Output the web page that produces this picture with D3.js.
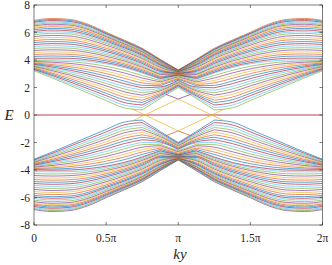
<!DOCTYPE html>
<html><head><meta charset="utf-8">
<script src="https://cdn.jsdelivr.net/npm/d3@7/dist/d3.min.js"></script>
<style>body{margin:0;background:#fff}svg{display:block}</style>
</head><body>
<svg id="chart" width="332" height="265"></svg>
<script>
// ky sample points (in units of π) for the half range 0..π; the spectrum is mirrored about ky = π
const kyKnots = [0, 0.125, 0.25, 0.375, 0.5, 0.625, 0.75, 0.875, 1];

// Lower "fan" of the conduction band, bottom edge first
const fanBands = [
  [3.22, 2.70, 2.15, 1.60, 1.05, 0.52, 0.37, 1.20, 2.00],
  [3.27, 2.79, 2.27, 1.75, 1.23, 0.72, 0.55, 1.29, 2.06],
  [3.32, 2.88, 2.40, 1.91, 1.41, 0.91, 0.73, 1.39, 2.12],
  [3.38, 2.96, 2.52, 2.06, 1.58, 1.11, 0.91, 1.48, 2.18],
  [3.43, 3.05, 2.64, 2.21, 1.76, 1.30, 1.08, 1.57, 2.24],
  [3.48, 3.14, 2.77, 2.37, 1.94, 1.50, 1.26, 1.67, 2.30],
  [3.53, 3.23, 2.89, 2.52, 2.12, 1.69, 1.44, 1.76, 2.36],
  [3.58, 3.32, 3.01, 2.67, 2.30, 1.89, 1.62, 1.85, 2.42],
  [3.64, 3.40, 3.14, 2.83, 2.47, 2.08, 1.80, 1.95, 2.48],
  [3.69, 3.49, 3.26, 2.98, 2.65, 2.28, 1.98, 2.04, 2.54],
  [3.74, 3.58, 3.38, 3.13, 2.83, 2.47, 2.16, 2.13, 2.60],
  [3.79, 3.67, 3.51, 3.29, 3.01, 2.67, 2.34, 2.23, 2.66],
  [3.84, 3.76, 3.63, 3.44, 3.19, 2.86, 2.51, 2.32, 2.72],
  [3.90, 3.84, 3.75, 3.59, 3.36, 3.06, 2.69, 2.41, 2.78],
  [3.95, 3.93, 3.88, 3.75, 3.54, 3.25, 2.87, 2.51, 2.84],
  [4.00, 4.02, 4.00, 3.90, 3.72, 3.45, 3.05, 2.60, 2.90]
];

// Upper part of the conduction band, top edge last
const upperBands = [
  [4.12, 4.14, 4.12, 4.01, 3.81, 3.53, 3.12, 2.66, 2.91],
  [4.26, 4.29, 4.27, 4.14, 3.93, 3.63, 3.21, 2.73, 2.93],
  [4.40, 4.44, 4.41, 4.28, 4.04, 3.73, 3.30, 2.80, 2.95],
  [4.55, 4.59, 4.56, 4.41, 4.16, 3.83, 3.39, 2.88, 2.97],
  [4.69, 4.74, 4.71, 4.55, 4.27, 3.93, 3.48, 2.95, 2.99],
  [4.84, 4.89, 4.86, 4.68, 4.39, 4.03, 3.57, 3.02, 3.01],
  [4.98, 5.04, 5.00, 4.82, 4.50, 4.13, 3.66, 3.09, 3.03],
  [5.12, 5.19, 5.15, 4.95, 4.62, 4.23, 3.75, 3.17, 3.04],
  [5.27, 5.34, 5.30, 5.09, 4.73, 4.33, 3.84, 3.24, 3.06],
  [5.41, 5.49, 5.45, 5.22, 4.85, 4.43, 3.93, 3.31, 3.08],
  [5.56, 5.64, 5.59, 5.36, 4.96, 4.53, 4.02, 3.38, 3.10],
  [5.70, 5.79, 5.74, 5.49, 5.08, 4.63, 4.11, 3.46, 3.12],
  [5.84, 5.94, 5.89, 5.63, 5.19, 4.73, 4.20, 3.53, 3.14],
  [5.96, 6.06, 6.01, 5.74, 5.28, 4.81, 4.27, 3.59, 3.15],
  [6.07, 6.18, 6.12, 5.84, 5.38, 4.89, 4.35, 3.64, 3.17],
  [6.19, 6.30, 6.24, 5.95, 5.47, 4.97, 4.42, 3.70, 3.18],
  [6.30, 6.42, 6.36, 6.06, 5.56, 5.05, 4.49, 3.76, 3.20],
  [6.39, 6.51, 6.45, 6.14, 5.63, 5.11, 4.54, 3.80, 3.21],
  [6.48, 6.60, 6.54, 6.22, 5.70, 5.17, 4.60, 3.85, 3.22],
  [6.56, 6.69, 6.63, 6.30, 5.77, 5.23, 4.65, 3.89, 3.23],
  [6.65, 6.78, 6.71, 6.38, 5.84, 5.29, 4.71, 3.93, 3.24],
  [6.74, 6.87, 6.80, 6.47, 5.91, 5.35, 4.76, 3.98, 3.25],
  [6.81, 6.95, 6.88, 6.53, 5.96, 5.40, 4.81, 4.01, 3.26],
  [6.88, 7.02, 6.95, 6.60, 6.02, 5.45, 4.85, 4.05, 3.27]
];

// In-gap states (half range, mirrored about π)
const edgeRiseKy = [0.68, 1.0];   const edgeRiseE = [-0.44, 1.16];
const edgeFallKy = [0.68, 1.0];   const edgeFallE = [0.44, -1.16];
const dipKy = [0.915, 1.0];       const dipE = [1.50, 1.16];
const zeroKy = [0, 2];            const zeroE = [0, 0];

const xTickValues = [0, 0.5, 1, 1.5, 2];
const xTickLabels = ["0", "0.5\u03c0", "\u03c0", "1.5\u03c0", "2\u03c0"];
const yTickValues = [-8, -6, -4, -2, 0, 2, 4, 6, 8];
const yTickLabels = ["-8", "-6", "-4", "-2", "0", "2", "4", "6", "8"];
const palette = ["#0072BD", "#D95319", "#EDB120", "#7E2F8E", "#77AC30", "#4DBEEE", "#A2142F"];

const L = 34, R = 322.5, T = 5, B = 225;
const svg = d3.select("#chart");
const x = d3.scaleLinear().domain([0, 2]).range([L, R]);
const y = d3.scaleLinear().domain([-8, 8]).range([B, T]);

svg.append("defs").append("clipPath").attr("id", "clip")
  .append("rect").attr("x", L).attr("y", T).attr("width", R - L).attr("height", B - T);
const g = svg.append("g").attr("clip-path", "url(#clip)");

const line = d3.line().x(d => x(d[0])).y(d => y(d[1])).curve(d3.curveMonotoneX);
const lin = d3.line().x(d => x(d[0])).y(d => y(d[1]));

// split a band at its interior minima so the band kinks there (as sampled bands do)
function segments(kys, vals) {
  const cuts = [0];
  for (let i = 1; i < vals.length - 1; i++) {
    if (vals[i] < vals[i - 1] && vals[i] <= vals[i + 1]) cuts.push(i);
  }
  cuts.push(vals.length - 1);
  const out = [];
  for (let c = 0; c < cuts.length - 1; c++) {
    const seg = [];
    for (let i = cuts[c]; i <= cuts[c + 1]; i++) seg.push(i);
    out.push(seg);
  }
  return out;
}

function drawHalfMirrored(kys, vals, sign, color, gen, width) {
  segments(kys, vals).forEach(idx => {
    const left = idx.map(i => [kys[i], sign * vals[i]]);
    const right = idx.map(i => [2 - kys[i], sign * vals[i]]).reverse();
    [left, right].forEach(pts => {
      g.append("path").attr("d", gen(pts)).attr("fill", "none")
        .attr("stroke", color).attr("stroke-width", width || 0.65);
    });
  });
}

const upperAll = fanBands.concat(upperBands); // ordered from the gap outward
// valence bands (mirrored in energy), outermost first
for (let r = upperAll.length - 1; r >= 0; r--) {
  drawHalfMirrored(kyKnots, upperAll[r], -1, palette[(7 - (r % 7)) % 7], line);
}
// conduction bands
upperAll.forEach((row, r) => {
  drawHalfMirrored(kyKnots, row, 1, palette[(4 + r) % 7], line);
});

// zero modes
g.append("path").attr("d", lin(zeroKy.map((k, i) => [k, zeroE[i]])))
  .attr("fill", "none").attr("stroke", "#A2142F").attr("stroke-width", 0.8);
// dips of the bands next to the gap
drawHalfMirrored(dipKy, dipE, 1, "#7E2F8E", lin, 0.7);
drawHalfMirrored(dipKy, dipE, -1, "#D95319", lin, 0.7);
// edge states
drawHalfMirrored(edgeRiseKy, edgeRiseE, 1, "#EDB120", lin, 0.7);
drawHalfMirrored(edgeFallKy, edgeFallE, 1, "#EDB120", lin, 0.7);

// axes box and ticks (inside, on all four sides)
const axisColor = "#262626";
const ax = svg.append("g").attr("stroke", axisColor).attr("stroke-width", 0.6).attr("fill", "none");
ax.append("rect").attr("x", L).attr("y", T).attr("width", R - L).attr("height", B - T);
xTickValues.forEach(v => {
  ax.append("line").attr("x1", x(v)).attr("x2", x(v)).attr("y1", B).attr("y2", B - 3);
  ax.append("line").attr("x1", x(v)).attr("x2", x(v)).attr("y1", T).attr("y2", T + 3);
});
yTickValues.forEach(v => {
  ax.append("line").attr("x1", L).attr("x2", L + 3).attr("y1", y(v)).attr("y2", y(v));
  ax.append("line").attr("x1", R).attr("x2", R - 3).attr("y1", y(v)).attr("y2", y(v));
});

const font = "'Liberation Serif', 'Times New Roman', serif";
const tx = svg.append("g").attr("font-family", font).attr("font-size", 11.5).attr("fill", "#262626");
xTickValues.forEach((v, i) => {
  tx.append("text").attr("x", x(v)).attr("y", 242).attr("text-anchor", "middle").text(xTickLabels[i]);
});
yTickValues.forEach((v, i) => {
  tx.append("text").attr("x", 30).attr("y", y(v) + 4).attr("text-anchor", "end").text(yTickLabels[i]);
});
svg.append("text").attr("x", 180).attr("y", 259).attr("text-anchor", "middle")
  .attr("font-family", font).attr("font-style", "italic").attr("font-size", 15).attr("fill", "#262626").text("ky");
svg.append("text").attr("x", 9).attr("y", 120).attr("text-anchor", "middle")
  .attr("font-family", font).attr("font-style", "italic").attr("font-size", 15).attr("fill", "#262626").text("E");
</script>
</body></html>
